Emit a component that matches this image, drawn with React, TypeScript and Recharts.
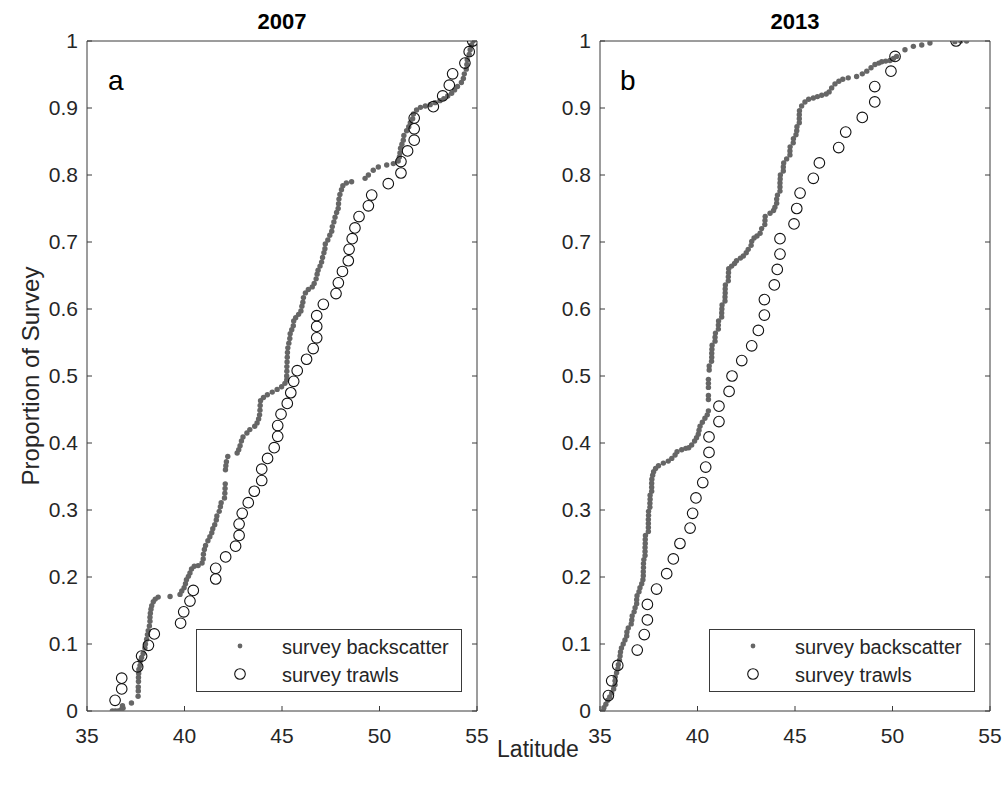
import React from 'react';
import { ScatterChart, Scatter, XAxis, YAxis, Legend } from 'recharts';

// ---------- data ----------
const xTicks = [35, 40, 45, 50, 55];
const yTicks = [0, 0.1, 0.2, 0.3, 0.4, 0.5, 0.6, 0.7, 0.8, 0.9, 1];
const yTickLabels = ['0', '0.1', '0.2', '0.3', '0.4', '0.5', '0.6', '0.7', '0.8', '0.9', '1'];
const panelTitles = ['2007', '2013'];
const panelLetters = ['a', 'b'];
const seriesNames = ['survey backscatter', 'survey trawls'];

// 2007 trawls: latitude and cumulative proportion
const trawl2007Lat = [36.44, 36.78, 36.78, 37.6, 37.8, 38.15, 38.45, 39.8, 39.96, 40.28, 40.45, 41.6, 41.6, 42.11, 42.62, 42.8, 42.8, 42.96, 43.27, 43.58, 43.96, 43.96, 44.26, 44.6, 44.78, 44.78, 44.95, 45.27, 45.45, 45.6, 45.78, 46.26, 46.6, 46.78, 46.78, 46.78, 47.12, 47.77, 47.89, 48.1, 48.4, 48.44, 48.6, 48.74, 48.95, 49.43, 49.6, 50.45, 51.1, 51.1, 51.44, 51.78, 51.78, 51.78, 52.76, 53.24, 53.58, 53.75, 54.38, 54.6, 54.78];
const trawl2007P = [0.016, 0.033, 0.049, 0.066, 0.082, 0.098, 0.115, 0.131, 0.148, 0.164, 0.18, 0.197, 0.213, 0.23, 0.246, 0.262, 0.279, 0.295, 0.311, 0.328, 0.344, 0.361, 0.377, 0.393, 0.41, 0.426, 0.443, 0.459, 0.475, 0.492, 0.508, 0.525, 0.541, 0.557, 0.574, 0.59, 0.607, 0.623, 0.639, 0.656, 0.672, 0.689, 0.705, 0.721, 0.738, 0.754, 0.77, 0.787, 0.803, 0.82, 0.836, 0.852, 0.869, 0.885, 0.902, 0.918, 0.934, 0.951, 0.967, 0.984, 1.0];

// 2013 trawls
const trawl2013Lat = [35.43, 35.6, 35.91, 36.91, 37.27, 37.43, 37.43, 37.9, 38.42, 38.76, 39.1, 39.62, 39.75, 39.92, 40.27, 40.42, 40.59, 40.59, 41.1, 41.1, 41.62, 41.77, 42.27, 42.78, 43.12, 43.43, 43.43, 43.94, 44.09, 44.23, 44.23, 44.95, 45.09, 45.26, 45.94, 46.25, 47.24, 47.6, 48.45, 49.09, 49.09, 49.92, 50.13, 53.26];
const trawl2013P = [0.023, 0.045, 0.068, 0.091, 0.114, 0.136, 0.159, 0.182, 0.205, 0.227, 0.25, 0.273, 0.295, 0.318, 0.341, 0.364, 0.386, 0.409, 0.432, 0.455, 0.477, 0.5, 0.523, 0.545, 0.568, 0.591, 0.614, 0.636, 0.659, 0.682, 0.705, 0.727, 0.75, 0.773, 0.795, 0.818, 0.841, 0.864, 0.886, 0.909, 0.932, 0.955, 0.977, 1.0];

// 2007 backscatter: [latitude, cumulative proportion]
const backscatter2007 = [
  [36.3, 0.0], [36.45, 0.0], [36.6, 0.0], [36.75, 0.002], [36.85, 0.004], [36.82, 0.008], [37.28, 0.012],
  [37.62, 0.022], [37.63, 0.03], [37.63, 0.036], [37.64, 0.044], [37.64, 0.05], [37.65, 0.056], [37.66, 0.062],
  [37.72, 0.068], [37.74, 0.075], [37.8, 0.08], [37.88, 0.086], [37.97, 0.094], [38.0, 0.1], [38.06, 0.107],
  [38.1, 0.114], [38.14, 0.12], [38.2, 0.127], [38.23, 0.134], [38.23, 0.14], [38.25, 0.146], [38.28, 0.152],
  [38.32, 0.157], [38.4, 0.163], [38.5, 0.167], [38.65, 0.17], [39.26, 0.171], [39.77, 0.174], [39.86, 0.179],
  [39.98, 0.184], [40.05, 0.19], [40.1, 0.196], [40.2, 0.201], [40.28, 0.206], [40.36, 0.212], [40.5, 0.216],
  [40.7, 0.217], [40.9, 0.221], [40.96, 0.227], [40.97, 0.234], [41.02, 0.241], [41.08, 0.247], [41.2, 0.254],
  [41.3, 0.26], [41.4, 0.266], [41.45, 0.272], [41.55, 0.278], [41.63, 0.285], [41.66, 0.291], [41.78, 0.298],
  [41.84, 0.305], [41.88, 0.311], [42.05, 0.318], [42.07, 0.325], [42.08, 0.332], [42.09, 0.339], [42.1, 0.36],
  [42.12, 0.366], [42.15, 0.372], [42.22, 0.38], [42.7, 0.385], [42.78, 0.39], [42.85, 0.396], [42.92, 0.403],
  [43.0, 0.409], [43.2, 0.415], [43.35, 0.42], [43.6, 0.425], [43.72, 0.43], [43.8, 0.436], [43.85, 0.442],
  [43.87, 0.449], [43.88, 0.456], [43.9, 0.463], [44.05, 0.468], [44.25, 0.472], [44.5, 0.476], [44.75, 0.48],
  [44.98, 0.484], [45.15, 0.489], [45.24, 0.494], [45.24, 0.5], [45.25, 0.507], [45.25, 0.514], [45.26, 0.521],
  [45.27, 0.528], [45.28, 0.535], [45.3, 0.542], [45.35, 0.549], [45.4, 0.556], [45.42, 0.563], [45.5, 0.569],
  [45.58, 0.575], [45.6, 0.582], [45.7, 0.587], [45.85, 0.592], [45.97, 0.597], [46.02, 0.604], [46.07, 0.61],
  [46.1, 0.617], [46.2, 0.624], [46.35, 0.629], [46.55, 0.633], [46.65, 0.638], [46.75, 0.645], [46.8, 0.652],
  [46.85, 0.658], [46.95, 0.664], [47.03, 0.67], [47.08, 0.677], [47.15, 0.684], [47.2, 0.69], [47.22, 0.697],
  [47.35, 0.703], [47.45, 0.71], [47.55, 0.716], [47.58, 0.723], [47.66, 0.73], [47.72, 0.737], [47.8, 0.744],
  [47.88, 0.75], [47.9, 0.757], [47.92, 0.764], [47.97, 0.771], [48.05, 0.778], [48.12, 0.784], [48.3, 0.788],
  [48.57, 0.79], [49.26, 0.795], [49.43, 0.8], [49.68, 0.807], [49.94, 0.812], [50.37, 0.815], [50.71, 0.817],
  [50.96, 0.821], [51.02, 0.827], [51.05, 0.833], [51.08, 0.84], [51.15, 0.846], [51.22, 0.852], [51.25, 0.859],
  [51.39, 0.866], [51.5, 0.872], [51.58, 0.878], [51.7, 0.884], [51.74, 0.891], [51.9, 0.897], [52.1, 0.901],
  [52.35, 0.903], [52.6, 0.905], [52.85, 0.908], [53.1, 0.911], [53.3, 0.914], [53.5, 0.918], [53.7, 0.922],
  [53.85, 0.927], [54.0, 0.932], [54.2, 0.938], [54.3, 0.944], [54.35, 0.951], [54.45, 0.958], [54.48, 0.965],
  [54.5, 0.972], [54.6, 0.98], [54.65, 0.987], [54.72, 0.994], [54.8, 1.0],
];

// 2013 backscatter
const backscatter2013 = [
  [35.17, 0.0], [35.2, 0.005], [35.3, 0.01], [35.4, 0.016], [35.5, 0.021], [35.6, 0.027], [35.7, 0.033],
  [35.77, 0.039], [35.77, 0.045], [35.78, 0.051], [35.85, 0.057], [35.92, 0.063], [35.94, 0.069], [36.0, 0.076],
  [36.03, 0.082], [36.05, 0.088], [36.1, 0.094], [36.19, 0.1], [36.28, 0.106], [36.37, 0.112], [36.38, 0.118],
  [36.45, 0.124], [36.6, 0.13], [36.63, 0.136], [36.65, 0.142], [36.75, 0.148], [36.8, 0.154], [36.88, 0.16],
  [36.88, 0.166], [36.9, 0.172], [37.0, 0.178], [37.05, 0.184], [37.14, 0.19], [37.2, 0.196], [37.22, 0.202],
  [37.22, 0.208], [37.23, 0.214], [37.23, 0.22], [37.25, 0.226], [37.31, 0.232], [37.31, 0.238], [37.31, 0.244],
  [37.32, 0.25], [37.32, 0.256], [37.33, 0.262], [37.48, 0.268], [37.48, 0.274], [37.48, 0.28], [37.48, 0.286],
  [37.49, 0.292], [37.49, 0.298], [37.56, 0.304], [37.56, 0.31], [37.57, 0.316], [37.57, 0.322], [37.65, 0.328],
  [37.65, 0.334], [37.65, 0.34], [37.66, 0.346], [37.7, 0.352], [37.75, 0.357], [37.85, 0.362], [38.0, 0.366],
  [38.25, 0.37], [38.5, 0.373], [38.68, 0.377], [38.85, 0.382], [38.95, 0.387], [39.19, 0.39], [39.4, 0.392],
  [39.55, 0.393], [39.7, 0.397], [39.85, 0.403], [39.95, 0.408], [40.04, 0.413], [40.08, 0.419], [40.13, 0.425],
  [40.25, 0.431], [40.38, 0.437], [40.5, 0.442], [40.56, 0.448], [40.56, 0.465], [40.56, 0.471], [40.56, 0.483],
  [40.56, 0.489], [40.56, 0.495], [40.6, 0.509], [40.6, 0.515], [40.72, 0.522], [40.73, 0.528], [40.73, 0.534],
  [40.74, 0.54], [40.75, 0.546], [40.9, 0.552], [40.9, 0.558], [40.92, 0.564], [41.07, 0.57], [41.07, 0.576],
  [41.08, 0.582], [41.24, 0.588], [41.24, 0.594], [41.25, 0.6], [41.26, 0.606], [41.41, 0.612], [41.41, 0.618],
  [41.42, 0.624], [41.42, 0.63], [41.43, 0.636], [41.58, 0.642], [41.58, 0.648], [41.59, 0.654], [41.6, 0.66],
  [41.75, 0.664], [41.9, 0.668], [42.0, 0.672], [42.2, 0.676], [42.35, 0.679], [42.5, 0.684], [42.6, 0.689],
  [42.75, 0.695], [42.78, 0.701], [42.9, 0.706], [43.05, 0.709], [43.21, 0.713], [43.29, 0.72], [43.45, 0.726],
  [43.46, 0.732], [43.47, 0.738], [43.72, 0.743], [43.9, 0.747], [43.97, 0.752], [44.06, 0.758], [44.06, 0.764],
  [44.1, 0.77], [44.23, 0.776], [44.23, 0.782], [44.23, 0.788], [44.24, 0.794], [44.25, 0.8], [44.4, 0.806],
  [44.4, 0.812], [44.42, 0.818], [44.57, 0.824], [44.74, 0.83], [44.74, 0.836], [44.75, 0.842], [44.91, 0.848],
  [44.92, 0.854], [45.05, 0.86], [45.09, 0.866], [45.1, 0.872], [45.22, 0.878], [45.22, 0.884], [45.22, 0.89],
  [45.23, 0.896], [45.34, 0.903], [45.51, 0.909], [45.7, 0.913], [45.94, 0.915], [46.15, 0.917], [46.37, 0.919],
  [46.6, 0.921], [46.75, 0.924], [46.88, 0.93], [47.05, 0.936], [47.25, 0.94], [47.45, 0.943], [47.73, 0.945],
  [48.16, 0.947], [48.45, 0.951], [48.68, 0.955], [48.9, 0.96], [49.1, 0.965], [49.3, 0.967], [49.45, 0.969],
  [49.65, 0.97], [49.87, 0.971], [50.05, 0.974], [50.21, 0.977], [50.64, 0.987], [51.07, 0.992], [51.5, 0.994],
  [51.92, 0.997], [53.2, 0.999], [53.5, 1.0], [53.8, 1.0],
];

// ---------- styles ----------
const FONT = '"Liberation Sans", Arial, Helvetica, sans-serif';
const AXIS = '#3a3a3a';
const TEXT = '#262626';
const BS_COLOR = '#666666';
const BS_R = 2.7;
const TICK_LEN = 5;

const toPoints = (pairs: number[][]) => pairs.map(([lat, p]) => ({ lat, p }));
const zipPoints = (lats: number[], ps: number[]) => lats.map((lat, i) => ({ lat, p: ps[i] }));

const BottomTick = (props: any) => {
  const { x, y, payload } = props;
  return (
    <g>
      <line x1={x} y1={y} x2={x} y2={y - TICK_LEN} stroke={AXIS} strokeWidth={1} />
      <text x={x} y={y + 32} textAnchor="middle" fontSize={21} fill={TEXT} fontFamily={FONT}>
        {payload.value}
      </text>
    </g>
  );
};
const TopTick = (props: any) => {
  const { x, y } = props;
  return <line x1={x} y1={y} x2={x} y2={y + TICK_LEN} stroke={AXIS} strokeWidth={1} />;
};
const LeftTick = (props: any) => {
  const { x, y, payload, index } = props;
  const label = yTickLabels[index] ?? String(payload.value);
  return (
    <g>
      <line x1={x} y1={y} x2={x + TICK_LEN} y2={y} stroke={AXIS} strokeWidth={1} />
      <text x={x - 9} y={y + 7} textAnchor="end" fontSize={21} fill={TEXT} fontFamily={FONT}>
        {label}
      </text>
    </g>
  );
};
const RightTick = (props: any) => {
  const { x, y } = props;
  return <line x1={x} y1={y} x2={x - TICK_LEN} y2={y} stroke={AXIS} strokeWidth={1} />;
};

const BsShape = (props: any) => <circle cx={props.cx} cy={props.cy} r={BS_R} fill={BS_COLOR} />;
const TrawlShape = (props: any) => (
  <circle cx={props.cx} cy={props.cy} r={5.3} fill="none" stroke="#111" strokeWidth={1.1} />
);

const LegendBox = () => (
  <svg width={266} height={63} style={{ display: 'block' }}>
    <rect x={0.5} y={0.5} width={265} height={62} fill="#fff" stroke={AXIS} strokeWidth={1} />
    <circle cx={44} cy={17} r={2.4} fill={BS_COLOR} />
    <circle cx={44} cy={45} r={5.3} fill="none" stroke="#111" strokeWidth={1.1} />
    <text x={86} y={25} fontSize={20} fill={TEXT} fontFamily={FONT}>{seriesNames[0]}</text>
    <text x={86} y={53} fontSize={20} fill={TEXT} fontFamily={FONT}>{seriesNames[1]}</text>
  </svg>
);

type PanelProps = {
  left: number;
  marginLeft: number;
  marginRight: number;
  legendLeft: number;
  bs: { lat: number; p: number }[];
  tr: { lat: number; p: number }[];
};

const Panel = ({ left, marginLeft, marginRight, legendLeft, bs, tr }: PanelProps) => (
  <div style={{ position: 'absolute', left, top: 0, width: 500, height: 787 }}>
    <ScatterChart
      width={500}
      height={787}
      margin={{ top: 40, right: marginRight, bottom: 36, left: marginLeft }}
    >
      <XAxis
        xAxisId="bottom"
        orientation="bottom"
        type="number"
        dataKey="lat"
        domain={[35, 55]}
        ticks={xTicks}
        interval={0}
        height={40}
        tickSize={0}
        tickMargin={0}
        tickLine={false}
        axisLine={{ stroke: AXIS, strokeWidth: 1 }}
        tick={BottomTick}
        allowDataOverflow
      />
      <XAxis
        xAxisId="top"
        orientation="top"
        type="number"
        domain={[35, 55]}
        ticks={xTicks}
        interval={0}
        height={1}
        tickSize={0}
        tickMargin={0}
        tickLine={false}
        axisLine={{ stroke: AXIS, strokeWidth: 1 }}
        tick={TopTick}
        allowDataOverflow
      />
      <YAxis
        yAxisId="left"
        orientation="left"
        type="number"
        dataKey="p"
        domain={[0, 1]}
        ticks={yTicks}
        interval={0}
        width={50}
        tickSize={0}
        tickMargin={0}
        tickLine={false}
        axisLine={{ stroke: AXIS, strokeWidth: 1 }}
        tick={LeftTick}
        allowDataOverflow
      />
      <YAxis
        yAxisId="right"
        orientation="right"
        type="number"
        domain={[0, 1]}
        ticks={yTicks}
        interval={0}
        width={1}
        tickSize={0}
        tickMargin={0}
        tickLine={false}
        axisLine={{ stroke: AXIS, strokeWidth: 1 }}
        tick={RightTick}
        allowDataOverflow
      />
      <Scatter
        name={seriesNames[0]}
        data={bs}
        xAxisId="bottom"
        yAxisId="left"
        shape={BsShape}
        isAnimationActive={false}
      />
      <Scatter
        name={seriesNames[1]}
        data={tr}
        xAxisId="bottom"
        yAxisId="left"
        shape={TrawlShape}
        isAnimationActive={false}
      />
      <Legend
        layout="vertical"
        align="center"
        verticalAlign="middle"
        content={LegendBox}
        wrapperStyle={{ position: 'absolute', left: legendLeft, top: 629, width: 266, height: 63 }}
      />
    </ScatterChart>
  </div>
);

export default function App() {
  const bs07 = toPoints(backscatter2007);
  const bs13 = toPoints(backscatter2013);
  const tr07 = zipPoints(trawl2007Lat, trawl2007P);
  const tr13 = zipPoints(trawl2013Lat, trawl2013P);
  return (
    <div
      style={{
        position: 'absolute',
        left: 0,
        top: 0,
        width: 1005,
        height: 787,
        background: '#fff',
        overflow: 'hidden',
        fontFamily: FONT,
      }}
    >
      <Panel left={0} marginLeft={37} marginRight={22} legendLeft={196} bs={bs07} tr={tr07} />
      <Panel left={505} marginLeft={45} marginRight={14} legendLeft={204} bs={bs13} tr={tr13} />
      <svg
        width={1005}
        height={787}
        style={{ position: 'absolute', left: 0, top: 0, pointerEvents: 'none' }}
      >
        <text x={282} y={29} textAnchor="middle" fontSize={22} fontWeight="bold" fill="#000" fontFamily={FONT}>
          {panelTitles[0]}
        </text>
        <text x={795} y={29} textAnchor="middle" fontSize={22} fontWeight="bold" fill="#000" fontFamily={FONT}>
          {panelTitles[1]}
        </text>
        <text x={108} y={90} fontSize={28} fill="#000" fontFamily={FONT}>{panelLetters[0]}</text>
        <text x={620} y={90} fontSize={28} fill="#000" fontFamily={FONT}>{panelLetters[1]}</text>
        <text
          transform="translate(39,376) rotate(-90)"
          textAnchor="middle"
          fontSize={24}
          fill={TEXT}
          fontFamily={FONT}
        >
          Proportion of Survey
        </text>
        <text x={538} y={757} textAnchor="middle" fontSize={23} fill={TEXT} fontFamily={FONT}>
          Latitude
        </text>
      </svg>
    </div>
  );
}
